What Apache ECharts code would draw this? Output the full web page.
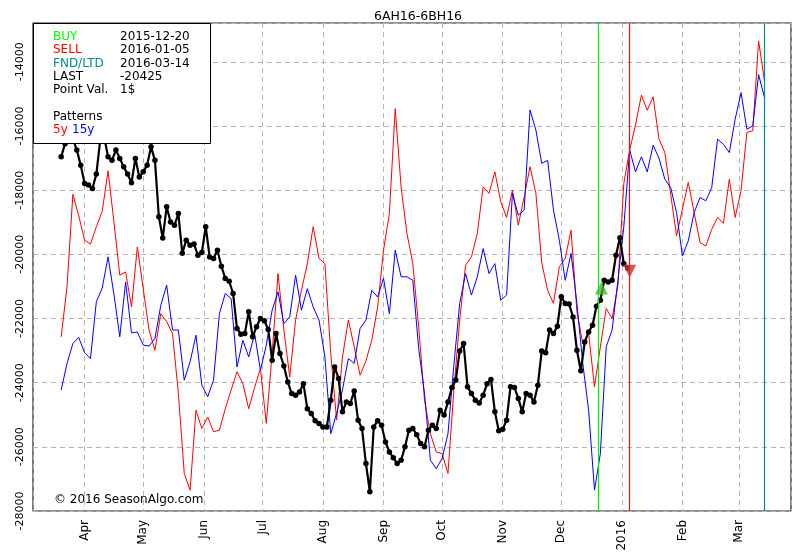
<!DOCTYPE html>
<html>
<head>
<meta charset="UTF-8" />
<title>6AH16-6BH16</title>
<style>
  html, body { margin: 0; padding: 0; background: #fff; }
  #chart { width: 800px; height: 560px; }
</style>
</head>
<body>
<div id="chart"></div>
<script src="https://cdn.jsdelivr.net/npm/echarts@6/dist/echarts.min.js"></script>
<script>
// spread price (black), sampled every 2 days from 2015-03-20
const priceStart = '2015-03-20';
const priceStep = 2;
const priceValues = [
  -16960, -16550, -16340, -16390, -16750, -17220, -17790, -17840, -17950, -17500,
  -16440, -16340, -16960, -17070, -16750, -17010, -17270, -17500, -17770, -17010,
  -17590, -17430, -17220, -16650, -17070, -18830, -19490, -18520, -18990, -19090,
  -18730, -19970, -19560, -19720, -19680, -20030, -19940, -19140, -20080, -20130,
  -19870, -20370, -20750, -20840, -21220, -22310, -22490, -22470, -21790, -22570,
  -22260, -22000, -22070, -22340, -23300, -22470, -23090, -23480, -23980, -24340,
  -24390, -24290, -24030, -24810, -24960, -25190, -25270, -25380, -25380, -24550,
  -23510, -23870, -24910, -24600, -24650, -24260, -25170, -25430, -26520, -27400,
  -25380, -25190, -25330, -25850, -26160, -26340, -26520, -26420, -26000, -25480,
  -25430, -25620, -25900, -26000, -25480, -25330, -25430, -24860, -25010, -24600,
  -24150, -23920, -23010, -22780, -24130, -24340, -24550, -24630, -24390, -24030,
  -23900, -24910, -25500, -25450, -25170, -24130, -24150, -24490, -24910, -24340,
  -24390, -24600, -24080, -23010, -23070, -22360, -22470, -22240, -21320, -21530,
  -21550, -21950, -22990, -23630, -22730, -22420, -22210, -21620, -21430, -20810,
  -20860, -20810, -20030, -19480, -20290, -20425
];

// seasonal patterns, sampled every 3 days from 2015-03-20
const patternStart = '2015-03-20';
const patternStep = 3;
const pattern5y = [
  -22570, -21010, -18130, -18800, -19560, -19680, -19140, -18660, -17400, -18990,
  -20650, -20550, -21640, -19770, -21070, -22360, -22990, -21850, -22100, -22470,
  -24340, -26830, -27350, -24860, -25430, -25070, -25530, -25480, -24810, -24230,
  -23660, -24030, -24810, -24150, -23560, -25270, -23090, -20600, -22360, -23820,
  -22050, -21120, -20290, -19140, -20130, -20290, -23090, -25170, -23200, -22050,
  -22880, -23770, -23320, -22680, -21640, -19870, -18730, -15460, -17900, -19350,
  -20290, -22260, -24550, -25590, -26160, -26210, -26830, -24230, -22050, -20340,
  -20080, -19350, -17900, -18100, -17430, -18360, -18850, -18000, -19090, -18210,
  -17270, -18100, -20270, -21120, -21530, -20390, -20130, -19250, -21790, -22780,
  -22470, -24130, -22880, -21690, -22000, -20960, -17790, -16750, -15970, -15040,
  -15510, -15090, -16400, -16830, -18130, -19420, -18590, -17760, -18700, -19630,
  -19740, -19220, -18850, -19030, -17660, -18850, -18020, -16200, -16150, -13350,
  -14590
];
const pattern15y = [
  -24230, -23400, -22780, -22590, -23070, -23250, -21480, -21050, -20080, -21240,
  -22570, -20860, -22450, -22420, -22830, -22860, -22620, -21590, -20960, -22360,
  -22360, -23920, -23350, -22520, -24080, -24440, -23920, -21850, -21220, -21380,
  -23510, -22680, -23200, -22470, -23610, -22830, -21740, -21170, -22160, -21950,
  -20650, -21740, -21070, -21640, -22050, -23200, -25590, -24960, -24230, -23250,
  -23400, -22310, -22050, -21120, -21330, -20750, -21850, -19870, -20700, -20700,
  -20810, -22940, -24340, -26420, -26680, -26360, -25590, -23460, -21530, -20600,
  -21270, -20700, -19820, -20600, -20290, -21430, -21270, -18100, -18780, -18620,
  -15500, -16130, -17170, -17070, -18620, -19560, -20810, -19970, -21530, -23400,
  -24860, -27350, -26210, -22880, -22360, -20810, -19140, -16750, -17430, -16960,
  -17430, -16600, -17000, -17660, -17920, -18700, -20050, -19580, -18700, -18230,
  -18330, -17920, -16410, -16570, -16830, -15790, -14960, -16100, -16000, -14400,
  -15110
];

const buyDate = '2015-12-20';
const sellDate = '2016-01-05';
const fndDate = '2016-03-14';
const buyValue = -21050;
const sellValue = -20525;

const infoLabels = ['BUY', 'SELL', 'FND/LTD', 'LAST', 'Point Val.'];
const infoValues = ['2015-12-20', '2016-01-05', '2016-03-14', '-20425', '1$'];
const infoColors = ['#00ff00', '#ff0000', '#008b8b', '#000', '#000'];

const monthNames = ['Jan','Feb','Mar','Apr','May','Jun','Jul','Aug','Sep','Oct','Nov','Dec'];

function ts(s, hour) {
  const p = s.split('-').map(Number);
  return new Date(p[0], p[1] - 1, p[2], hour || 0).getTime();
}
function stepped(start, step, values) {
  const p = start.split('-').map(Number);
  return values.map(function(v, i) {
    return [new Date(p[0], p[1] - 1, p[2] + i * step).getTime(), v];
  });
}

const FONT = '"DejaVu Sans", sans-serif';
const chart = echarts.init(document.getElementById('chart'));

const graphics = [{
  type: 'rect', left: 33, top: 23, z: 100,
  shape: { width: 177, height: 120 },
  style: { fill: '#fff', stroke: '#000', lineWidth: 1 }
}];
infoLabels.forEach(function(t, i) {
  const y = 37 + i * 13.3;
  graphics.push({ type: 'text', x: 53, y: y, z: 101,
    style: { text: t, fill: infoColors[i], font: '12px ' + FONT, verticalAlign: 'middle' } });
  graphics.push({ type: 'text', x: 120, y: y, z: 101,
    style: { text: infoValues[i], fill: '#000', font: '12px ' + FONT, verticalAlign: 'middle' } });
});
graphics.push({ type: 'text', x: 53, y: 117, z: 101,
  style: { text: 'Patterns', fill: '#000', font: '12px ' + FONT, verticalAlign: 'middle' } });
graphics.push({ type: 'text', x: 53, y: 130, z: 101,
  style: { text: '5y', fill: '#ff0000', font: '12px ' + FONT, verticalAlign: 'middle' } });
graphics.push({ type: 'text', x: 72, y: 130, z: 101,
  style: { text: '15y', fill: '#0000ff', font: '12px ' + FONT, verticalAlign: 'middle' } });
graphics.push({ type: 'text', x: 54, y: 500, z: 101,
  style: { text: '\u00a9 2016 SeasonAlgo.com', fill: '#000', font: '12px ' + FONT, verticalAlign: 'middle' } });

const option = {
  animation: false,
  backgroundColor: '#fff',
  title: {
    text: '6AH16-6BH16', left: 413, top: 5, textAlign: 'center',
    textStyle: { fontFamily: FONT, fontSize: 12.5, fontWeight: 'normal', color: '#000' }
  },
  grid: {
    left: 33, right: 9, top: 23, bottom: 49,
    show: true, borderColor: '#222', borderWidth: 1.2, backgroundColor: 'transparent'
  },
  xAxis: {
    type: 'time',
    min: ts('2015-03-05', 14),
    max: ts('2016-03-27', 14),
    minInterval: 28 * 86400000,
    maxInterval: 31 * 86400000,
    axisLine: { show: false },
    axisTick: { show: false },
    splitLine: { show: true, lineStyle: { color: '#b4b4b4', type: [5, 4], width: 1 } },
    axisLabel: {
      rotate: 90, margin: 9, fontSize: 12, fontFamily: FONT, color: '#000',
      formatter: function(v) {
        const d = new Date(v);
        return d.getMonth() === 0 ? String(d.getFullYear()) : monthNames[d.getMonth()];
      }
    }
  },
  yAxis: {
    type: 'value',
    min: -28000, max: -12790, interval: 2000,
    axisLine: { show: false },
    axisTick: { show: false },
    splitLine: { show: true, lineStyle: { color: '#b4b4b4', type: [5, 4], width: 1 } },
    axisLabel: {
      rotate: 90, margin: 7, fontSize: 11, fontFamily: FONT, color: '#000',
      align: 'center', verticalAlign: 'bottom', showMaxLabel: false,
      formatter: function(v) { return String(v); }
    }
  },
  graphic: graphics,
  series: [
    {
      name: '5y', type: 'line', data: stepped(patternStart, patternStep, pattern5y),
      showSymbol: false, lineStyle: { color: '#ff0000', width: 1 }, itemStyle: { color: '#ff0000' }
    },
    {
      name: '15y', type: 'line', data: stepped(patternStart, patternStep, pattern15y),
      showSymbol: false, lineStyle: { color: '#0000ff', width: 1 }, itemStyle: { color: '#0000ff' }
    },
    {
      name: 'price', type: 'line', data: stepped(priceStart, priceStep, priceValues),
      symbol: 'circle', symbolSize: 5.5, showSymbol: true,
      lineStyle: { color: '#000', width: 2.2 }, itemStyle: { color: '#000' }
    },
    {
      name: 'dates', type: 'line', data: [],
      markLine: {
        silent: true, symbol: 'none', label: { show: false },
        data: [
          { xAxis: ts(buyDate), lineStyle: { color: '#00ee00', width: 1.2, type: 'solid' } },
          { xAxis: ts(sellDate), lineStyle: { color: '#e01010', width: 1.2, type: 'solid' } },
          { xAxis: ts(fndDate), lineStyle: { color: '#008b8b', width: 1.2, type: 'solid' } }
        ]
      }
    },
    {
      name: 'buy', type: 'scatter', z: 10, data: [[ts(buyDate), buyValue]],
      symbol: 'triangle', symbolSize: 13, symbolOffset: [3, 0], itemStyle: { color: '#44b82a' }
    },
    {
      name: 'sell', type: 'scatter', z: 10, data: [[ts(sellDate), sellValue]],
      symbol: 'triangle', symbolRotate: 180, symbolSize: 13, itemStyle: { color: '#c8322a' }
    }
  ]
};
chart.setOption(option);
</script>
</body>
</html>
